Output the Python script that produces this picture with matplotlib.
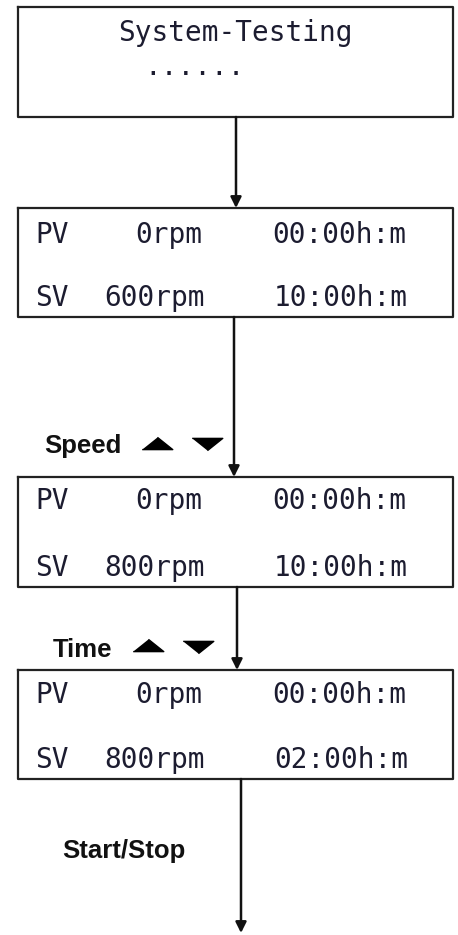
import matplotlib.pyplot as plt

# screen texts for each step
title_text = "System-Testing"
title_dots = "......"
pv_rows = [("PV", "0rpm", "00:00h:m"), ("PV", "0rpm", "00:00h:m"), ("PV", "0rpm", "00:00h:m")]
sv_rows = [("SV", "600rpm", "10:00h:m"), ("SV", "800rpm", "10:00h:m"), ("SV", "800rpm", "02:00h:m")]
key_labels = ["Speed", "Time", "Start/Stop"]

# layout (pixel coordinates, y downwards)
box_top = [7, 208, 477, 670]
box_bot = [117, 317, 587, 779]
pv_base = [243, 509, 703]
sv_base = [306, 576, 768]
pv_cx = [52, 169, 339]
sv_cx = [52, 155, 341]
arrow_x = [236, 234, 237, 241]
arrow_end = [208, 477, 670, 933]
key_pos = [(44, 453), (53, 657), (62, 858)]
tri_up = [(157, 442.5), (148, 645)]
tri_dn = [(207, 444), (198, 646.5)]

fig = plt.figure(figsize=(4.58, 9.35), dpi=100)
ax = fig.add_axes([0, 0, 1, 1])
ax.set_xlim(0, 458)
ax.set_ylim(935, 0)
ax.axis("off")

mono = "DejaVu Sans Mono"
txt_col = "#1c1c30"
fs = 20

for top, bot in zip(box_top, box_bot):
    ax.plot([18, 453, 453, 18, 18], [top, top, bot, bot, top], color="#222222", lw=1.6)

ax.text(235, 41, title_text, family=mono, fontsize=fs, color=txt_col, ha="center", va="baseline")
ax.text(195, 75, title_dots, family=mono, fontsize=fs, color=txt_col, ha="center", va="baseline")

for i in range(3):
    for row, y, xs in ((pv_rows[i], pv_base[i], pv_cx), (sv_rows[i], sv_base[i], sv_cx)):
        for s, x in zip(row, xs):
            ax.text(x, y, s, family=mono, fontsize=fs, color=txt_col, ha="center", va="baseline")

for i in range(4):
    ax.annotate("", xy=(arrow_x[i], arrow_end[i]), xytext=(arrow_x[i], box_bot[i]),
                arrowprops=dict(arrowstyle="-|>", color="#111111", lw=1.8,
                                mutation_scale=16, shrinkA=0, shrinkB=0))

for lab, (x, y) in zip(key_labels, key_pos):
    ax.text(x, y, lab, family="Liberation Sans", fontweight="bold", fontsize=18.5,
            color="#111111", ha="left", va="baseline")

up_marker = [(-1, -0.4), (1, -0.4), (0, 0.4)]
dn_marker = [(-1, 0.4), (1, 0.4), (0, -0.4)]
for (ux, uy), (dx, dy) in zip(tri_up, tri_dn):
    ax.plot(ux, uy, marker=up_marker, markersize=22, color="black", lw=0)
    ax.plot(dx, dy, marker=dn_marker, markersize=22, color="black", lw=0)

fig.savefig("out.png", dpi=100)
